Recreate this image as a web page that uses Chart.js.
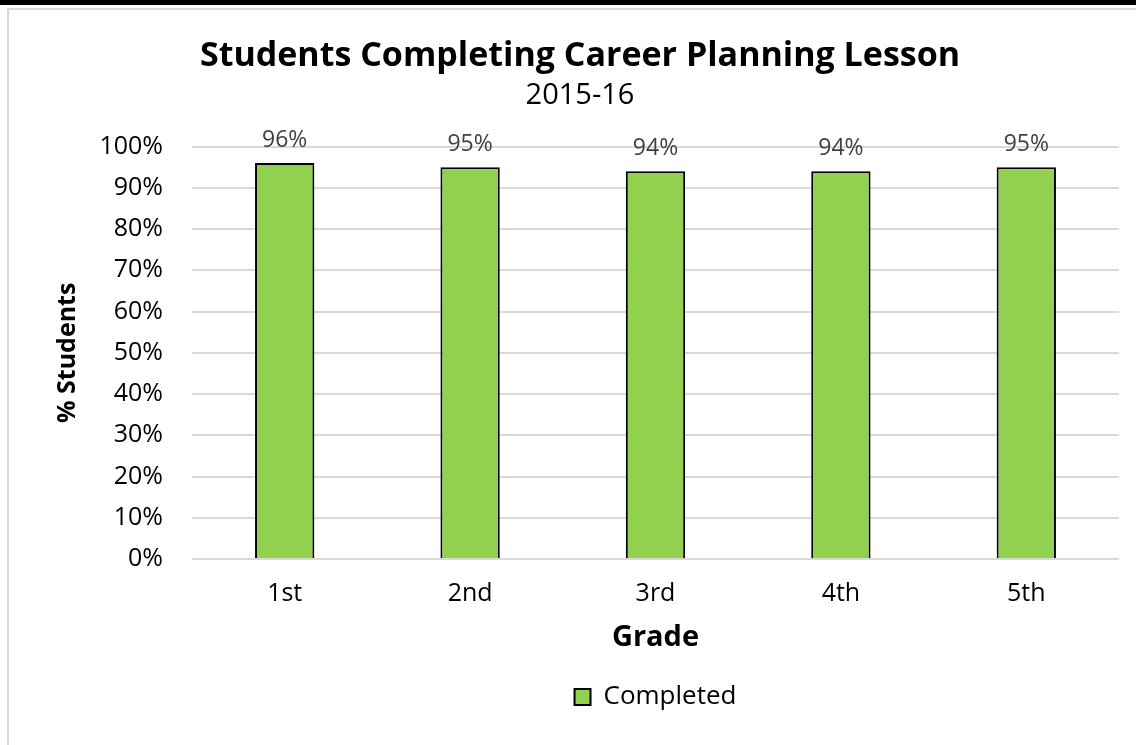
<!DOCTYPE html>
<html>
<head>
<meta charset="utf-8">
<script src="https://cdn.jsdelivr.net/npm/chart.js@4.4.0/dist/chart.umd.min.js"></script>
<style>
  html, body { margin: 0; padding: 0; background: #fff; }
  body { width: 1136px; height: 745px; position: relative; overflow: hidden; }
  #topbar { position: absolute; left: 0; top: 0; width: 1136px; height: 5px; background: #000; }
  #frame { position: absolute; left: 7px; top: 8px; width: 1140px; height: 760px; border: 2px solid #d9d9d9; box-sizing: border-box; }
  #wrap { position: absolute; left: 0; top: 0; width: 1136px; height: 745px; }
</style>
</head>
<body>
<div id="topbar"></div>
<div id="frame"></div>
<div id="wrap"><canvas id="chart"></canvas></div>
<script>
// chart data
const grades = ['1st', '2nd', '3rd', '4th', '5th'];
const completed = [96, 95, 94, 94, 95];
const yTicks = [0, 10, 20, 30, 40, 50, 60, 70, 80, 90, 100];

const FONT = '"Open Sans", Lato, sans-serif';

// draws the value above each bar
const valueLabels = {
  id: 'valueLabels',
  afterDatasetsDraw(chart) {
    const ctx = chart.ctx;
    const meta = chart.getDatasetMeta(0);
    ctx.save();
    ctx.font = '23px ' + FONT;
    ctx.fillStyle = '#404040';
    ctx.textAlign = 'center';
    ctx.textBaseline = 'alphabetic';
    meta.data.forEach((bar, i) => {
      ctx.fillText(completed[i] + '%', bar.x, bar.y - 16);
    });
    ctx.restore();
  }
};

new Chart(document.getElementById('chart'), {
  type: 'bar',
  data: {
    labels: grades,
    datasets: [{
      label: 'Completed',
      data: completed,
      backgroundColor: '#92d050',
      borderColor: '#000',
      borderWidth: 2,
      borderSkipped: 'bottom',
      categoryPercentage: 1,
      barPercentage: 0.32
    }]
  },
  options: {
    responsive: true,
    maintainAspectRatio: false,
    animation: false,
    layout: { padding: { left: 41, right: 17, top: 36, bottom: 25 } },
    plugins: {
      title: {
        display: true,
        text: 'Students Completing Career Planning Lesson',
        color: '#000',
        font: { family: FONT, size: 34, weight: 'bold' },
        padding: { top: 0, bottom: 2 }
      },
      subtitle: {
        display: true,
        text: '2015-16',
        color: '#000',
        font: { family: FONT, size: 29 },
        padding: { top: 0, bottom: 33 }
      },
      legend: {
        position: 'bottom',
        fullSize: false,
        labels: {
          color: '#000',
          font: { family: FONT, size: 26 },
          boxWidth: 16,
          boxHeight: 16,
          padding: 29
        }
      },
      tooltip: { enabled: false }
    },
    scales: {
      x: {
        grid: { display: false, drawTicks: false },
        border: { display: false },
        ticks: { color: '#000', font: { family: FONT, size: 25 }, padding: 20 },
        title: {
          display: true,
          text: 'Grade',
          color: '#000',
          font: { family: FONT, size: 29, weight: 'bold' },
          padding: { top: 0, bottom: 0 }
        },
        afterFit(axis) { axis.height = 96; }
      },
      y: {
        min: 0,
        max: 100,
        afterBuildTicks(axis) {
          axis.ticks = yTicks.map(v => ({ value: v }));
        },
        grid: { color: '#d9d9d9', lineWidth: 2, drawTicks: false },
        border: { display: false },
        ticks: {
          color: '#000',
          font: { family: FONT, size: 25 },
          padding: 29,
          callback: v => v + '%'
        },
        title: {
          display: true,
          text: '% Students',
          color: '#000',
          font: { family: FONT, size: 25, weight: 'bold' },
          padding: { top: 12, bottom: 0 }
        },
        afterFit(axis) { axis.width = 151; }
      }
    }
  },
  plugins: [valueLabels]
});
</script>
</body>
</html>
